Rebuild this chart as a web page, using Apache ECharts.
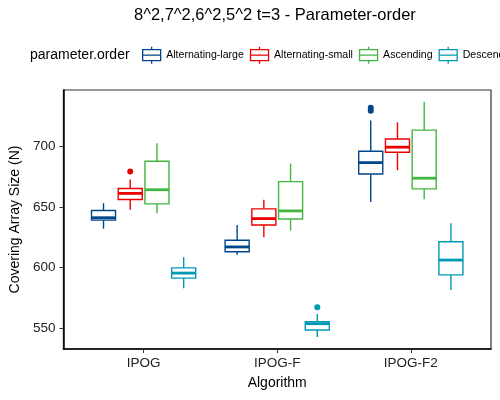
<!DOCTYPE html>
<html>
<head>
<meta charset="utf-8">
<script src="https://cdn.jsdelivr.net/npm/echarts@6/dist/echarts.min.js"></script>
<style>html,body{margin:0;padding:0;background:#fff}#c{width:500px;height:400px}</style>
</head>
<body>
<div id="c"></div>
<script>
// ---- data ----
const categories = ['IPOG', 'IPOG-F', 'IPOG-F2'];
const groups = ['Alternating-large', 'Alternating-small', 'Ascending', 'Descending'];
const yTicks = [550, 600, 650, 700];
// per category: [lower whisker, Q1, median, Q3, upper whisker]
const altLarge   = [[632, 639, 641, 647, 653], [610.5, 613, 617, 622.5, 635], [654, 677, 686.3, 695.6, 721]];
const altSmall   = [[647.5, 656, 661, 665, 672.5], [625, 635, 640.3, 648.3, 655.7], [680, 694.8, 699, 705.7, 719.4]];
const ascending  = [[644.7, 652.4, 664, 687.4, 702.2], [630.5, 640, 646.6, 670.7, 685.5], [656.2, 664.7, 673.5, 713, 736.4]];
const descending = [[583, 591.4, 595.5, 599.8, 608.6], [543, 548.7, 553.9, 555.5, 561.8], [581.5, 594, 606.2, 621.2, 636.5]];
// outliers: [category index, value]
const outAltLarge   = [[2, 729], [2, 731.5]];
const outAltSmall   = [[0, 679]];
const outAscending  = [];
const outDescending = [[1, 567.5]];

// ---- styling ----
const colors = ['#00468B', '#ED0000', '#42B540', '#0099B4'];
const offsets = [-0.3, -0.1, 0.1, 0.3];
const BOX_W = 0.18;
const FONT = '"Liberation Sans", Arial, sans-serif';
const stats = [altLarge, altSmall, ascending, descending];
const outs = [outAltLarge, outAltSmall, outAscending, outDescending];

function renderItem(params, api) {
  const x = api.value(0);
  const p = v => api.coord([x, v]);
  const lo = p(api.value(1)), q1 = p(api.value(2)), med = p(api.value(3)), q3 = p(api.value(4)), hi = p(api.value(5));
  const hw = api.size([BOX_W, 0])[0] / 2;
  const color = api.visual('color');
  const lw = 1.4;
  return {
    type: 'group',
    children: [
      { type: 'line', shape: { x1: lo[0], y1: lo[1], x2: q1[0], y2: q1[1] }, style: { stroke: color, lineWidth: lw } },
      { type: 'line', shape: { x1: q3[0], y1: q3[1], x2: hi[0], y2: hi[1] }, style: { stroke: color, lineWidth: lw } },
      { type: 'rect', shape: { x: q3[0] - hw, y: q3[1], width: 2 * hw, height: q1[1] - q3[1] }, style: { fill: '#fff', stroke: color, lineWidth: lw } },
      { type: 'line', shape: { x1: med[0] - hw, y1: med[1], x2: med[0] + hw, y2: med[1] }, style: { stroke: color, lineWidth: 2.8 } }
    ]
  };
}

const series = [];
groups.forEach((g, gi) => {
  series.push({
    name: g,
    type: 'custom',
    renderItem: renderItem,
    itemStyle: { color: colors[gi] },
    encode: { x: 0, y: [1, 2, 3, 4, 5] },
    data: stats[gi].map((s, ci) => [ci + 1 + offsets[gi]].concat(s)),
    z: 2
  });
  series.push({
    name: g,
    type: 'scatter',
    symbolSize: 6,
    itemStyle: { color: colors[gi], opacity: 1 },
    data: outs[gi].map(o => [o[0] + 1 + offsets[gi], o[1]]),
    z: 3
  });
});

const iconPath = 'path://M9.5,0L9.5,3M9.5,14L9.5,17M0.5,3L18.5,3L18.5,14L0.5,14ZM0.5,8.5L18.5,8.5';

const option = {
  backgroundColor: '#fff',
  animation: false,
  textStyle: { fontFamily: FONT },
  title: [
    { text: '8^2,7^2,6^2,5^2 t=3 - Parameter-order', left: 134, top: 7, padding: 0,
      textStyle: { fontFamily: FONT, fontSize: 16.5, fontWeight: 'normal', color: '#000' } },
    { text: 'parameter.order', left: 30, top: 48, padding: 0,
      textStyle: { fontFamily: FONT, fontSize: 14, fontWeight: 'normal', color: '#000' } }
  ],
  legend: {
    left: 142, top: 46, padding: 0, width: 1200,
    itemWidth: 19, itemHeight: 17, itemGap: 6,
    textStyle: { fontFamily: FONT, fontSize: 10.6, color: '#000' },
    data: groups.map((g, gi) => ({
      name: g, icon: iconPath,
      itemStyle: { color: '#fff', borderColor: colors[gi], borderWidth: 1.3 }
    }))
  },
  grid: { left: 63, right: 9, top: 90, bottom: 51, show: true, borderColor: '#333', borderWidth: 1.2, backgroundColor: '#fff' },
  xAxis: {
    type: 'value', min: 0.4, max: 3.6,
    name: 'Algorithm', nameLocation: 'middle', nameGap: 27,
    nameTextStyle: { fontFamily: FONT, fontSize: 14, color: '#000' },
    axisLine: { onZero: false, lineStyle: { color: '#000', width: 1.5 } },
    axisTick: { customValues: [1, 2, 3], length: 4, lineStyle: { color: '#333', width: 1 } },
    axisLabel: { customValues: [1, 2, 3], margin: 7, fontFamily: FONT, fontSize: 13.5, color: '#222',
      formatter: v => categories[Math.round(v) - 1] },
    splitLine: { show: false }
  },
  yAxis: {
    type: 'value', min: 533.1, max: 746,
    name: 'Covering Array Size (N)', nameLocation: 'middle', nameGap: 41, nameRotate: 90,
    nameTextStyle: { fontFamily: FONT, fontSize: 14, color: '#000' },
    axisLine: { show: true, onZero: false, lineStyle: { color: '#000', width: 1.5 } },
    axisTick: { show: true, customValues: yTicks, length: 4, lineStyle: { color: '#333', width: 1 } },
    axisLabel: { customValues: yTicks, margin: 8, fontFamily: FONT, fontSize: 13.5, color: '#222' },
    splitLine: { show: false }
  },
  series: series
};

const chart = echarts.init(document.getElementById('c'), null, { renderer: 'canvas' });
chart.setOption(option);
</script>
</body>
</html>
